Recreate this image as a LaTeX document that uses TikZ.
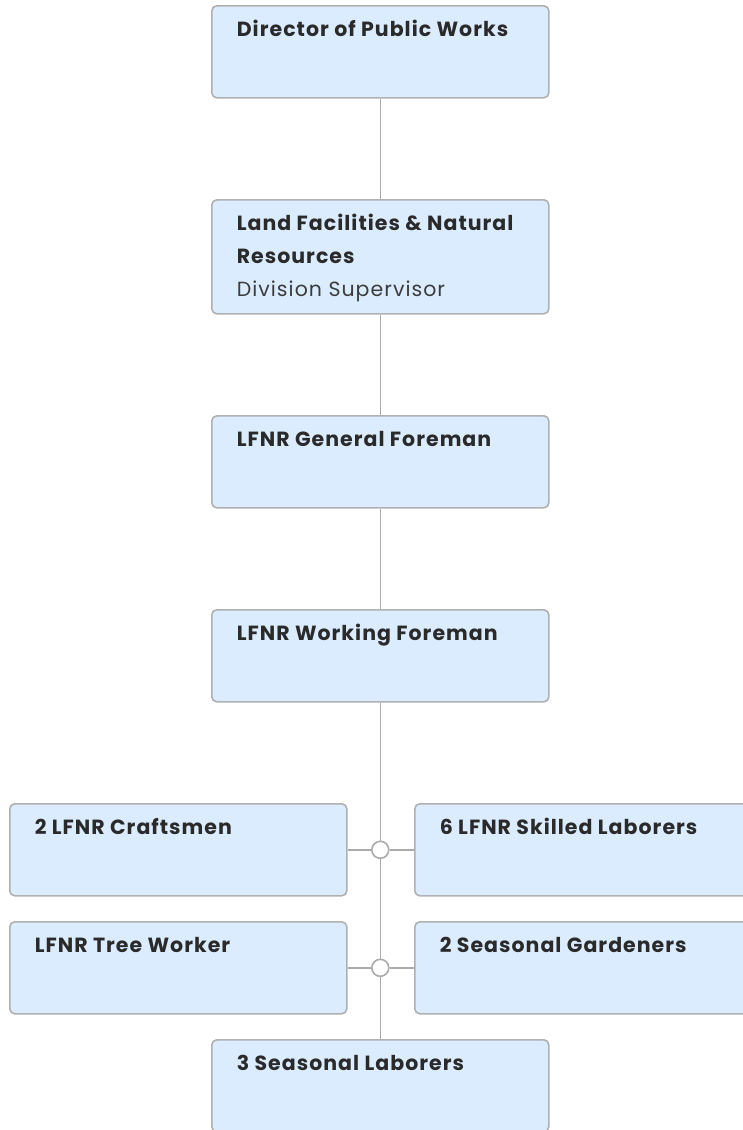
\documentclass[tikz,border=0pt]{standalone}
\usepackage{fontspec}
\setmainfont{Poppins}[LetterSpace=5]
\usetikzlibrary{positioning}
\definecolor{boxfill}{HTML}{DBECFE}
\definecolor{boxline}{HTML}{B0B0B0}
\definecolor{linkline}{HTML}{ABABAB}
\definecolor{titletext}{HTML}{2A2A2A}
\definecolor{subtext}{HTML}{3C3C3C}

\begin{document}
\begin{tikzpicture}[x=1pt,y=-1pt]
		\tikzstyle{every node}+=[inner sep=0pt]
		\tikzstyle{unit}=[draw=boxline, line width=1.6pt, fill=boxfill, rounded corners=5pt,
			anchor=north west, inner xsep=25pt, text width=287pt, align=flush left,
			text height=31pt, text depth=61pt, text=titletext,
			font=\fontsize{20.5}{33}\selectfont\bfseries]
		\tikzstyle{junction}=[circle, draw=linkline, line width=1.6pt, fill=white, minimum size=17pt]
		\tikzstyle{link}=[draw=linkline, line width=1.6pt]
		\useasboundingbox (0,0) rectangle (742,1130);
		\node [unit] (dir) at (211,5) {Director of Public Works};
		\node [unit, text depth=83pt] (lfnr) at (211,199) {Land Facilities \& Natural\\Resources\\
			{\mdseries\color{subtext}Division Supervisor}};
		\node [unit] (genfore) at (211,415) {LFNR General Foreman};
		\node [unit] (workfore) at (211,609) {LFNR Working Foreman};
		\node [unit] (craft) at (9,803) {2 LFNR Craftsmen};
		\node [unit] (skilled) at (414,803) {6 LFNR Skilled Laborers};
		\node [unit] (tree) at (9,921) {LFNR Tree Worker};
		\node [unit] (gardeners) at (414,921) {2 Seasonal Gardeners};
		\node [unit] (laborers) at (211,1039) {3 Seasonal Laborers};
		\node [junction] (j1) at (craft.east -| workfore.south) {};
		\node [junction] (j2) at (tree.east -| workfore.south) {};
		\draw [link] (dir.south) -- (lfnr.north);
		\draw [link] (lfnr.south) -- (genfore.north);
		\draw [link] (genfore.south) -- (workfore.north);
		\draw [link] (workfore.south) -- (j1.north);
		\draw [link] (j1.south) -- (j2.north);
		\draw [link] (j2.south) -- (laborers.north);
		\draw [link] (craft.east) -- (j1.west);
		\draw [link] (j1.east) -- (skilled.west);
		\draw [link] (tree.east) -- (j2.west);
		\draw [link] (j2.east) -- (gardeners.west);
	\end{tikzpicture}
\end{document}
